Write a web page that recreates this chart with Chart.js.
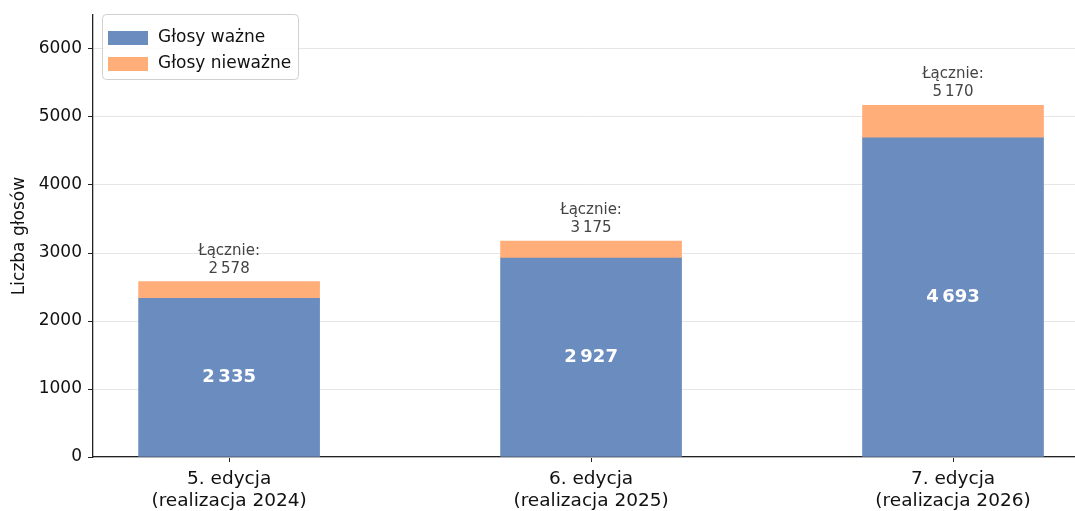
<!DOCTYPE html>
<html>
<head>
<meta charset="utf-8">
<script src="https://cdn.jsdelivr.net/npm/chart.js@4.4.1/dist/chart.umd.min.js"></script>
<style>
  html, body { margin: 0; padding: 0; background: #fff; overflow: hidden; }
  #wrap { width: 1075px; height: 511px; }
</style>
</head>
<body>
<div id="wrap"><canvas id="wykres"></canvas></div>
<script>
// dane
const edycje = [['5. edycja', '(realizacja 2024)'], ['6. edycja', '(realizacja 2025)'], ['7. edycja', '(realizacja 2026)']];
const glosyWazne = [2335, 2927, 4693];
const glosyNiewazne = [243, 248, 477];
const yTicki = [0, 1000, 2000, 3000, 4000, 5000, 6000];

const font = 'DejaVu Sans, sans-serif';
const niebieski = '#6a8cbf';
const pomaranczowy = '#ffae7a';

function fmt(n) {
  return String(n).replace(/\B(?=(\d{3})+(?!\d))/g, '\u2009');
}

// etykiety na slupkach
const etykiety = {
  id: 'etykiety',
  afterDatasetsDraw(chart) {
    const ctx = chart.ctx;
    const m0 = chart.getDatasetMeta(0);
    const m1 = chart.getDatasetMeta(1);
    ctx.save();
    ctx.textAlign = 'center';
    ctx.textBaseline = 'middle';
    m0.data.forEach((el, i) => {
      ctx.fillStyle = '#fff';
      ctx.font = 'bold 18px ' + font;
      ctx.fillText(fmt(glosyWazne[i]), el.x, (el.y + el.base) / 2);
    });
    m1.data.forEach((el, i) => {
      const suma = glosyWazne[i] + glosyNiewazne[i];
      ctx.fillStyle = '#444';
      ctx.font = '15px ' + font;
      ctx.fillText('Łącznie:', el.x, el.y - 31);
      ctx.fillText(fmt(suma), el.x, el.y - 13);
    });
    ctx.restore();
  }
};

// legenda w rogu
const legenda = {
  id: 'legenda',
  afterDraw(chart) {
    const ctx = chart.ctx;
    const a = chart.chartArea;
    const x = a.left + 9, y = a.top - 1;
    ctx.save();
    ctx.beginPath();
    ctx.roundRect(x + 0.5, y + 0.5, 196, 65, 4);
    ctx.fillStyle = 'rgba(255,255,255,0.85)';
    ctx.fill();
    ctx.strokeStyle = '#d0d0d0';
    ctx.lineWidth = 1;
    ctx.stroke();
    ctx.font = '17px ' + font;
    ctx.textBaseline = 'middle';
    chart.data.datasets.forEach((ds, i) => {
      const cy = y + 24 + i * 26;
      ctx.fillStyle = ds.backgroundColor;
      ctx.fillRect(x + 6, cy - 7, 40, 14);
      ctx.fillStyle = '#111';
      ctx.fillText(ds.label, x + 56, cy);
    });
    ctx.restore();
  }
};

new Chart(document.getElementById('wykres'), {
  type: 'bar',
  data: {
    datasets: [
      {
        label: 'Głosy ważne',
        data: glosyWazne.map((v, i) => ({ x: i, y: v })),
        backgroundColor: niebieski,
        barThickness: 181
      },
      {
        label: 'Głosy nieważne',
        data: glosyNiewazne.map((v, i) => ({ x: i, y: v })),
        backgroundColor: pomaranczowy,
        barThickness: 181
      }
    ]
  },
  options: {
    responsive: true,
    maintainAspectRatio: false,
    animation: false,
    layout: { padding: { top: 15, right: 0, left: 0, bottom: 0 } },
    scales: {
      x: {
        type: 'linear',
        stacked: true,
        min: -0.376,
        max: 2.337,
        offset: false,
        afterBuildTicks(scale) {
          scale.ticks = edycje.map((e, i) => ({ value: i }));
        },
        afterFit(scale) { scale.height = 54; },
        ticks: {
          color: '#111',
          font: { size: 18.5, family: font },
          padding: 6,
          callback: (v) => edycje[v]
        },
        grid: { display: true, offset: false, drawOnChartArea: false, drawTicks: true, tickLength: 5, tickColor: '#222' },
        border: { display: true, color: '#222', width: 1.3 }
      },
      y: {
        stacked: true,
        min: 0,
        max: 6500,
        afterBuildTicks(scale) {
          scale.ticks = yTicki.map(v => ({ value: v }));
        },
        afterFit(scale) {
          scale.width = 93;
          scale.paddingTop = 0;
          scale.paddingBottom = 0;
        },
        ticks: {
          color: '#111',
          font: { size: 17, family: font },
          padding: 6,
          callback: (v) => String(v)
        },
        grid: { color: '#e6e6e6', lineWidth: 1, tickLength: 5, tickColor: '#222' },
        border: { display: true, color: '#222', width: 1.3 },
        title: {
          display: true,
          text: 'Liczba głosów',
          color: '#111',
          font: { size: 17, family: font },
          padding: { top: 9, bottom: 4 }
        }
      }
    },
    plugins: {
      legend: { display: false },
      tooltip: { enabled: false }
    }
  },
  plugins: [etykiety, legenda]
});
</script>
</body>
</html>
